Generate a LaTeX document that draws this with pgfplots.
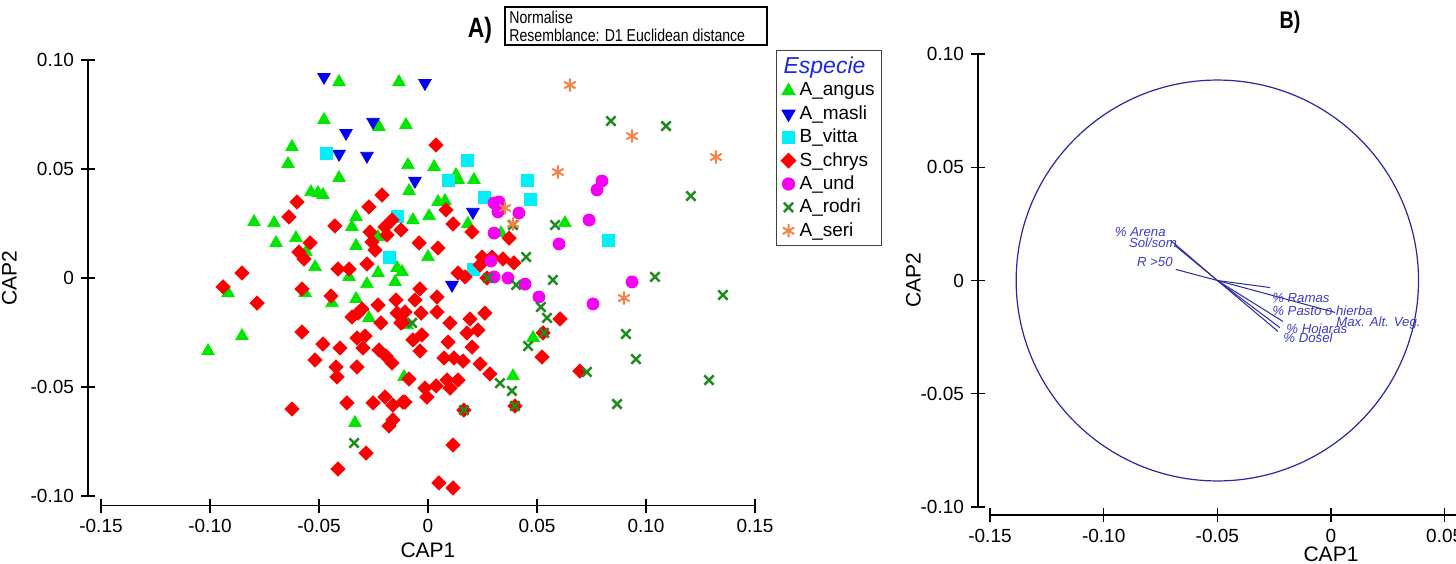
\documentclass[border=0pt]{standalone}
\usepackage{pgfplots}
\pgfplotsset{compat=1.18}
\usepackage{fontspec}
\setmainfont{Liberation Sans}
\newfontfamily\narrow[FakeStretch=0.82]{Liberation Sans}
\definecolor{cang}{RGB}{0,230,0}
\definecolor{cmas}{RGB}{0,0,245}
\definecolor{cvit}{RGB}{0,240,250}
\definecolor{cchr}{RGB}{250,0,0}
\definecolor{cund}{RGB}{245,0,245}
\definecolor{crod}{RGB}{30,140,30}
\definecolor{cser}{RGB}{245,130,70}
\definecolor{cvec}{RGB}{40,40,160}
\definecolor{clab}{RGB}{60,60,200}
\definecolor{cesp}{RGB}{30,40,225}

\pgfplotsset{
  capaxis/.style={
    scale only axis,
    axis x line=bottom, axis y line=left,
    axis line style={-, line width=0.6pt},
    tick align=center, major tick length=7pt,
    tick style={line width=0.6pt, black},
    tick label style={font=\fontsize{9.5}{10}\selectfont},
    label style={font=\fontsize{10.5}{12}\selectfont},
    xlabel={CAP1}, ylabel={CAP2},
    ymin=-0.1, ymax=0.1,
    ytick={-0.1,-0.05,0,0.05,0.1},
    yticklabels={-0.10,-0.05,0,0.05,0.10},
    clip=false,
  },
}
\tikzset{vlab/.style={font=\fontsize{6.6}{7}\selectfont\itshape, text=clab, inner sep=0pt, anchor=west}}

\begin{document}
\begin{tikzpicture}
\path[use as bounding box] (0,0) rectangle (728pt,281.5pt);
\clip (0,0) rectangle (728pt,281.5pt);

% ---------------- panel A
\begin{axis}[capaxis,
  at={(50.5pt,33.5pt)}, anchor=south west,
  width=327pt, height=218pt,
  xmin=-0.15, xmax=0.15,
  xtick={-0.15,-0.1,-0.05,0,0.05,0.1,0.15},
  xticklabels={-0.15,-0.10,-0.05,0,0.05,0.10,0.15},
  axis x line shift=4.75pt, axis y line shift=6.5pt,
  xlabel shift=-2pt,
  legend style={at={(1.032,1.023)}, anchor=north west, draw=black!75,
    line width=0.6pt, font=\fontsize{9.5}{11}\selectfont,
    inner xsep=1.5pt, inner ysep=1pt, row sep=-0.7pt},
  legend cell align=left,
  legend image code/.code={\draw[mark repeat=2, mark phase=2, #1] plot coordinates {(0pt,0pt) (4.5pt,0pt) (9pt,0pt)};},
]
\addlegendimage{empty legend}
\addlegendentry{\hspace*{-8pt}\textcolor{cesp}{\fontsize{11.5}{12}\selectfont\itshape Especie}}

% A_angus
\addplot[only marks, mark=triangle*, color=cang, mark size=3.6pt] coordinates {
(-0.0408,0.0899) (-0.0133,0.0899) (-0.0477,0.0725) (-0.0225,0.0693) (-0.0101,0.0702)
(-0.0624,0.0601) (-0.0642,0.0523) (-0.0408,0.0459) (-0.0092,0.0518) (0.0028,0.0509)
(0.0128,0.0472) (0.0211,0.0450) (-0.0537,0.0394) (-0.0505,0.0390) (-0.0482,0.0381)
(-0.0087,0.0399) (0.0046,0.0349) (0.0078,0.0353) (0.0005,0.0284) (-0.0069,0.0266)
(-0.0330,0.0280) (-0.0349,0.0234) (-0.0798,0.0257) (-0.0706,0.0252) (-0.0697,0.0161)
(-0.0606,0.0183) (-0.0560,0.0119) (-0.0330,0.0147) (-0.0229,0.0188) (0.0000,0.0096)
(-0.0518,0.0050) (-0.0229,0.0023) (-0.0142,0.0046) (-0.0119,0.0028) (-0.0362,0.0005)
(-0.0280,-0.0028) (-0.0151,-0.0018) (0.0183,0.0248) (0.0335,0.0206) (0.0628,0.0252)
(-0.1009,-0.0335) (-0.0853,-0.0266) (-0.0917,-0.0069) (-0.0564,-0.0069) (-0.0440,-0.0115)
(-0.0330,-0.0096) (-0.0271,-0.0183) (-0.0096,-0.0216) (-0.0110,-0.0454) (-0.0335,-0.0665)
(0.0482,-0.0275) (0.0390,-0.0450) (0.0138,0.0450)
};
\addlegendentry{A\_angus}

% A_masli
\addplot[only marks, mark=triangle*, color=cmas, mark size=3.6pt, mark options={rotate=180}] coordinates {
(-0.0477,0.0922) (-0.0014,0.0894) (-0.0376,0.0665) (-0.0252,0.0716) (-0.0408,0.0569)
(-0.0280,0.0560) (-0.0060,0.0445) (0.0206,0.0303) (0.0110,-0.0032)
};
\addlegendentry{A\_masli}

% B_vitta
\addplot[only marks, mark=square*, color=cvit, mark size=3pt] coordinates {
(-0.0468,0.0573) (0.0179,0.0541) (0.0092,0.0450) (0.0454,0.0450) (0.0257,0.0372)
(0.0468,0.0362) (-0.0142,0.0284) (-0.0179,0.0096) (0.0206,0.0041) (0.0826,0.0174)
};
\addlegendentry{B\_vitta}

% S_chrys
\addplot[only marks, mark=square*, color=cchr, mark size=2.5pt, mark options={rotate=45}] coordinates {
(0.0037,0.0610) (-0.0601,0.0349) (-0.0638,0.0280) (-0.0211,0.0381) (-0.0271,0.0326)
(-0.0427,0.0239) (0.0083,0.0312) (0.0115,0.0248) (0.0202,0.0211) (-0.0165,0.0266)
(-0.0197,0.0234) (-0.0124,0.0220) (-0.0266,0.0211) (-0.0257,0.0165) (-0.0188,0.0197)
(-0.0243,0.0128) (-0.0541,0.0161) (-0.0592,0.0119) (-0.0569,0.0087) (-0.0041,0.0161)
(0.0046,0.0138) (-0.0853,0.0023) (-0.0940,-0.0041) (-0.0413,0.0041) (-0.0362,0.0041)
(-0.0280,0.0064) (0.0138,0.0023) (0.0170,0.0005) (-0.0578,-0.0050) (-0.0037,-0.0050)
(0.0372,0.0183) (0.0248,0.0096) (0.0294,0.0096) (0.0344,0.0087) (0.0394,0.0069)
(0.0239,0.0060) (0.0271,0.0000) (0.0041,-0.0087) (0.0041,-0.0156) (-0.0032,-0.0161)
(0.0101,-0.0206) (0.0193,-0.0188) (0.0261,-0.0161) (0.0179,-0.0252) (0.0229,-0.0239)
(-0.0028,-0.0261) (0.0092,-0.0294) (0.0202,-0.0317) (-0.0037,-0.0335) (0.0073,-0.0367)
(0.0119,-0.0367) (0.0161,-0.0381) (0.0239,-0.0394) (0.0284,-0.0440) (-0.0014,-0.0505)
(0.0037,-0.0495) (0.0087,-0.0468) (0.0138,-0.0468) (0.0101,-0.0505) (-0.0005,-0.0546)
(0.0165,-0.0606) (0.0399,-0.0587) (0.0606,-0.0188) (0.0528,-0.0252) (0.0523,-0.0362)
(0.0697,-0.0427) (0.0115,-0.0766) (0.0050,-0.0940) (0.0115,-0.0963) (-0.0060,-0.0101)
(-0.0106,-0.0156) (-0.0124,-0.0206) (-0.0069,-0.0284) (-0.0087,-0.0463) (-0.0106,-0.0569)
(-0.0445,-0.0083) (-0.0229,-0.0124) (-0.0147,-0.0101) (-0.0303,-0.0142) (-0.0349,-0.0179)
(-0.0321,-0.0161) (-0.0216,-0.0206) (-0.0142,-0.0161) (-0.0115,-0.0202) (-0.0578,-0.0248)
(-0.0326,-0.0275) (-0.0289,-0.0266) (-0.0298,-0.0321) (-0.0482,-0.0303) (-0.0404,-0.0321)
(-0.0225,-0.0330) (-0.0193,-0.0358) (-0.0165,-0.0390) (-0.0518,-0.0376) (-0.0422,-0.0408)
(-0.0417,-0.0454) (-0.0326,-0.0408) (-0.0372,-0.0573) (-0.0252,-0.0573) (-0.0197,-0.0546)
(-0.0161,-0.0583) (-0.0115,-0.0569) (-0.0624,-0.0601) (-0.0161,-0.0651) (-0.0179,-0.0679)
(-0.0284,-0.0803) (-0.0413,-0.0876) (-0.0784,-0.0115)
};
\addlegendentry{S\_chrys}

% A_und
\addplot[only marks, mark=*, color=cund, mark size=3pt] coordinates {
(0.0798,0.0445) (0.0775,0.0404) (0.0303,0.0344) (0.0326,0.0349) (0.0321,0.0303)
(0.0417,0.0298) (0.0739,0.0266) (0.0303,0.0206) (0.0601,0.0156) (0.0289,0.0078)
(0.0303,0.0005) (0.0367,0.0000) (0.0445,-0.0028) (0.0509,-0.0087) (0.0757,-0.0119)
(0.0936,-0.0018)
};
\addlegendentry{A\_und}

% A_rodri
\addplot[only marks, mark=x, color=crod, mark size=3.3pt, mark options={line width=1.25pt}] coordinates {
(0.0839,0.0720) (0.1092,0.0697) (0.1206,0.0376) (0.0583,0.0243) (0.0390,0.0243)
(0.0450,0.0096) (0.0275,0.0000) (0.0404,-0.0032) (0.0573,-0.0009) (0.1041,0.0005)
(0.1353,-0.0078) (0.0518,-0.0133) (0.0546,-0.0183) (0.0532,-0.0252) (0.0459,-0.0312)
(0.0908,-0.0257) (0.0954,-0.0372) (0.0729,-0.0431) (0.0330,-0.0482) (0.0385,-0.0518)
(0.0399,-0.0587) (0.0165,-0.0606) (0.1289,-0.0468) (0.0867,-0.0578) (-0.0339,-0.0757)
(-0.0073,-0.0206)
};
\addlegendentry{A\_rodri}

% A_seri
\addplot[only marks, mark=asterisk, color=cser, mark size=3.3pt, mark options={line width=1pt}] coordinates {
(0.0651,0.0885) (0.0936,0.0651) (0.1321,0.0555) (0.0596,0.0486) (0.0353,0.0321)
(0.0390,0.0248) (0.0899,-0.0092)
};
\addlegendentry{A\_seri}
\end{axis}

% ---------------- panel B (axis runs to 0.15, cut at the page edge)
\begin{axis}[capaxis,
  at={(495pt,28pt)}, anchor=south west,
  width=341pt, height=226.5pt,
  xmin=-0.15, xmax=0.15,
  xtick={-0.15,-0.1,-0.05,0,0.05,0.1,0.15},
  xticklabels={-0.15,-0.10,-0.05,0,0.05,0.10,0.15},
  axis x line shift=4pt, axis y line shift=6pt,
  xlabel shift=-4.5pt, ylabel shift=-7pt,
]
\draw[cvec, line width=0.6pt] (axis cs:-0.05,0) ellipse [x radius=0.0885, y radius=0.0885];
\addplot[cvec, line width=0.5pt] coordinates {(-0.05,0) (-0.0705,0.0177)};
\addplot[cvec, line width=0.5pt] coordinates {(-0.05,0) (-0.0687,0.0155)};
\addplot[cvec, line width=0.5pt] coordinates {(-0.05,0) (-0.0683,0.0049)};
\addplot[cvec, line width=0.5pt] coordinates {(-0.05,0) (-0.0269,-0.0031)};
\addplot[cvec, line width=0.5pt] coordinates {(-0.05,0) (0.0018,-0.0141)};
\addplot[cvec, line width=0.5pt] coordinates {(-0.05,0) (-0.0211,-0.0181)};
\addplot[cvec, line width=0.5pt] coordinates {(-0.05,0) (-0.0225,-0.0208)};
\addplot[cvec, line width=0.5pt] coordinates {(-0.05,0) (-0.0233,-0.0225)};
\node[vlab] at (axis cs:-0.0952,0.0216) {\% Arena};
\node[vlab] at (axis cs:-0.0890,0.0168) {Sol/som};
\node[vlab] at (axis cs:-0.0855,0.0084) {R >50};
\node[vlab] at (axis cs:-0.0260,-0.0075) {\% Ramas};
\node[vlab] at (axis cs:-0.0260,-0.0132) {\% Pasto o hierba};
\node[vlab] at (axis cs:0.0022,-0.0190) {Max. Alt. Veg.};
\node[vlab] at (axis cs:-0.0198,-0.0218) {\% Hojaras};
\node[vlab] at (axis cs:-0.0211,-0.0254) {\% Dosel};
\end{axis}

% titles and note box
\node[font=\narrow\bfseries\fontsize{14}{15}\selectfont] at (240pt,266.5pt) {A)};
\node[font=\narrow\bfseries\fontsize{12}{13}\selectfont] at (645pt,270.5pt) {B)};
\draw[line width=0.6pt] (252.5pt,259pt) rectangle (383.5pt,278pt);
\node[font=\narrow\fontsize{8.6}{9}\selectfont, anchor=west, inner sep=0pt] at (254.5pt,273pt) {Normalise};
\node[font=\narrow\fontsize{8.6}{9}\selectfont, anchor=west, inner sep=0pt] at (254.5pt,264pt) {Resemblance: D1 Euclidean distance};
\end{tikzpicture}
\end{document}
